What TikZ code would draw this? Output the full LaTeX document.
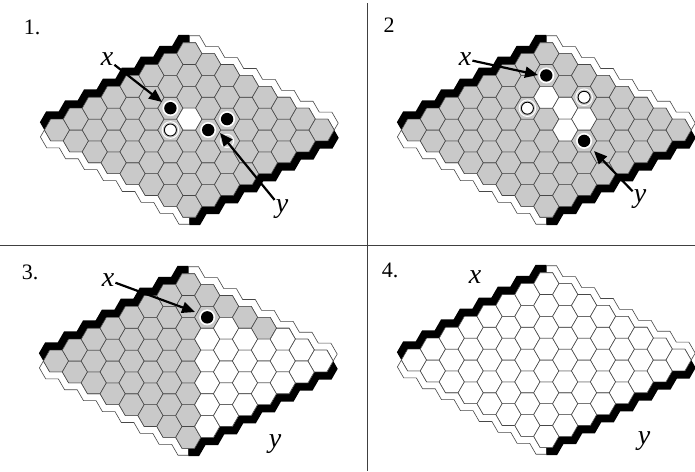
\documentclass[tikz,border=0pt]{standalone}
\usepackage{fontspec}
\setmainfont{Liberation Serif}
\usetikzlibrary{arrows.meta}
\definecolor{cellgray}{gray}{0.79}
\definecolor{edgegray}{gray}{0.28}
\tikzset{
  cellg/.style={fill=cellgray, draw=edgegray, line width=0.6pt},
  cellw/.style={fill=white, draw=edgegray, line width=0.6pt},
  bandblack/.style={fill=black},
  bandwhite/.style={fill=white, draw=edgegray, line width=0.6pt},
  arr/.style={line width=2.2pt, -{Triangle[length=13pt,width=11pt]}},
  lbl/.style={font=\fontsize{28}{30}\selectfont\itshape, inner sep=1pt},
  num/.style={font=\fontsize{22}{24}\selectfont, inner sep=1pt},
  sep/.style={draw=black!75, line width=0.8pt},
}
\newcommand{\cellat}[5]{\filldraw[#5,shift={({#1+18.9*(#3+#4)},{#2-10.912*(#3-#4)})}] (12.6,0) -- (6.3,-10.912) -- (-6.3,-10.912) -- (-12.6,0) -- (-6.3,10.912) -- (6.3,10.912) -- cycle;}
\newcommand{\bstone}[4]{%
  \fill[white] ({#1+18.9*(#3+#4)},{#2-10.912*(#3-#4)}) circle (8pt);
  \fill[black] ({#1+18.9*(#3+#4)},{#2-10.912*(#3-#4)}) circle (6.2pt);}
\newcommand{\wstone}[4]{%
  \draw[white, line width=1pt] ({#1+18.9*(#3+#4)},{#2-10.912*(#3-#4)}) circle (8.3pt);
  \filldraw[fill=white, draw=black, line width=0.9pt] ({#1+18.9*(#3+#4)},{#2-10.912*(#3-#4)}) circle (6pt);}
\newcommand{\gstone}[4]{%
  \draw[white, line width=1.2pt] ({#1+18.9*(#3+#4)},{#2-10.912*(#3-#4)}) circle (6.5pt);}
\newcommand{\hexboard}[3]{%
  % white band, bottom-left
  \filldraw[bandwhite] ({#1-12.6},{#2}) \foreach \k in {0,...,7}{ -- ({#1+18.9*\k-12.6},{#2+10.912*\k}) -- ({#1+18.9*\k-6.3},{#2+10.912*\k+10.912}) } -- ({#1+132.3},{#2+87.296}) -- ({#1+132.3},{#2+94.224}) \foreach \k in {7,...,0}{ -- ({#1+18.9*\k-10.3},{#2+10.912*\k+17.84}) -- ({#1+18.9*\k-16.6},{#2+10.912*\k+6.928}) } -- cycle;
  % white band, top-right
  \filldraw[bandwhite] ({#1+132.3},{#2-87.296}) \foreach \k in {0,...,7}{ -- ({#1+132.3+18.9*\k+6.3},{#2-76.384+10.912*\k-10.912}) -- ({#1+132.3+18.9*\k+12.6},{#2-76.384+10.912*\k}) } \foreach \k in {7,...,0}{ -- ({#1+132.3+18.9*\k+16.6},{#2-76.384+10.912*\k-6.928}) -- ({#1+132.3+18.9*\k+10.3},{#2-76.384+10.912*\k-17.84}) } -- ({#1+132.3},{#2-94.224}) -- cycle;
  % black band, top-left
  \fill[bandblack] ({#1-12.6},{#2}) \foreach \k in {0,...,7}{ -- ({#1+18.9*\k-12.6},{#2-10.912*\k}) -- ({#1+18.9*\k-6.3},{#2-10.912*\k-10.912}) } -- ({#1+132.3},{#2-87.296}) -- ({#1+132.3},{#2-95.09}) \foreach \k in {7,...,0}{ -- ({#1+18.9*\k-10.8},{#2-10.912*\k-18.706}) -- ({#1+18.9*\k-17.1},{#2-10.912*\k-7.794}) } -- cycle;
  % black band, bottom-right
  \fill[bandblack] ({#1+132.3},{#2+87.296}) \foreach \k in {0,...,7}{ -- ({#1+132.3+18.9*\k+6.3},{#2+76.384-10.912*\k+10.912}) -- ({#1+132.3+18.9*\k+12.6},{#2+76.384-10.912*\k}) } \foreach \k in {7,...,0}{ -- ({#1+132.3+18.9*\k+17.1},{#2+76.384-10.912*\k+7.794}) -- ({#1+132.3+18.9*\k+10.8},{#2+76.384-10.912*\k+18.706}) } -- ({#1+132.3},{#2+95.09}) -- cycle;
  % cells
  \foreach \i in {0,...,7}{\foreach \j in {0,...,7}{\cellat{#1}{#2}{\i}{\j}{#3}}}
}
\begin{document}
\begin{tikzpicture}[x=1pt,y=-1pt]
\fill[white] (0,0) rectangle (695,471);
\useasboundingbox (0,0) rectangle (695,471);
% separators
\coordinate (h1) at (0,245); \coordinate (h2) at (695,245);
\coordinate (v1) at (367,3); \coordinate (v2) at (367,471);
\draw[sep] (h1) -- (h2);
\draw[sep] (v1) -- (v2);
% ---------- panel 1
\hexboard{57}{130}{cellg}
\cellat{57}{130}{4}{3}{cellw}
\bstone{57}{130}{4}{2}
\wstone{57}{130}{3}{3}
\bstone{57}{130}{4}{4}
\bstone{57}{130}{5}{4}
\gstone{57}{130}{4}{5}
\node[num] (n1) at (32,27) {1.};
\node[lbl] (x1) at (107,59) {x};
\coordinate (x1t) at (162,102);
\draw[arr] (x1) -- (x1t);
\node[lbl] (y1) at (282,209) {y};
\coordinate (y1t) at (220,133);
\draw[arr] (y1) -- (y1t);
% ---------- panel 2
\hexboard{414}{130}{cellg}
\cellat{414}{130}{5}{2}{cellw}
\cellat{414}{130}{5}{3}{cellw}
\cellat{414}{130}{5}{4}{cellw}
\cellat{414}{130}{4}{4}{cellw}
\bstone{414}{130}{6}{1}
\wstone{414}{130}{4}{2}
\wstone{414}{130}{6}{3}
\bstone{414}{130}{4}{5}
\node[num] (n2) at (389,25) {2};
\node[lbl] (x2) at (465,59) {x};
\coordinate (x2t) at (538,75);
\draw[arr] (x2) -- (x2t);
\node[lbl] (y2) at (640,199) {y};
\coordinate (y2t) at (594,151);
\draw[arr] (y2) -- (y2t);
% ---------- panel 3
\hexboard{56}{361}{cellg}
\foreach \i/\j in {5/3,6/3,4/4,5/4,6/4,3/5,4/5,5/5,6/5,7/5,2/6,3/6,4/6,5/6,6/6,7/6,1/7,2/7,3/7,4/7,5/7,6/7,7/7}{\cellat{56}{361}{\i}{\j}{cellw}}
\bstone{56}{361}{6}{2}
\node[num] (n3) at (30,272) {3.};
\node[lbl] (x3) at (108,280) {x};
\coordinate (x3t) at (195,312);
\draw[arr] (x3) -- (x3t);
\node[lbl] (y3) at (275,444) {y};
% ---------- panel 4
\hexboard{414}{360}{cellw}
\node[num] (n4) at (390,270) {4.};
\node[lbl] (x4) at (475,277) {x};
\node[lbl] (y4) at (644,441) {y};
\end{tikzpicture}
\end{document}
